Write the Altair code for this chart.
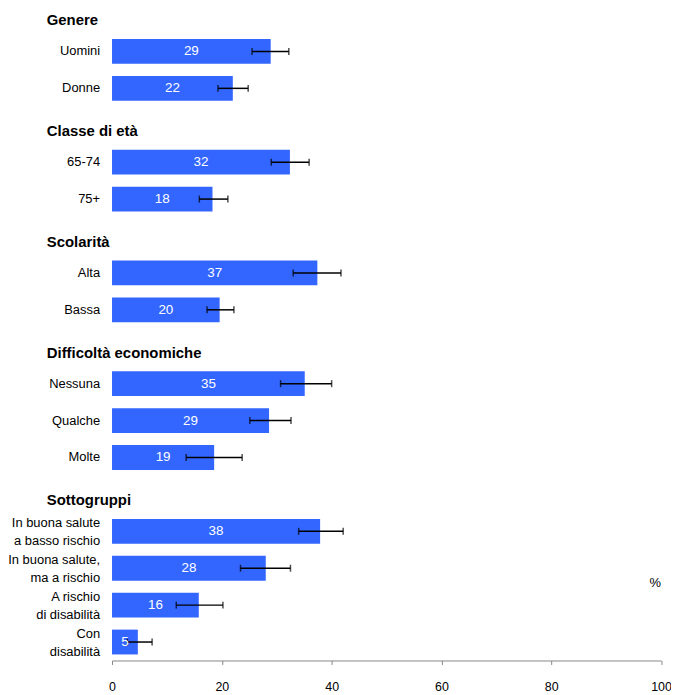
import altair as alt
import pandas as pd

FONT = "Liberation Sans, Arial, sans-serif"

groups = ["Genere", "Classe di età", "Scolarità", "Difficoltà economiche", "Sottogruppi"]
group_sizes = [2, 2, 2, 3, 4]
categories = [
    "Uomini", "Donne",
    "65-74", "75+",
    "Alta", "Bassa",
    "Nessuna", "Qualche", "Molte",
    "In buona salute\na basso rischio", "In buona salute,\nma a rischio",
    "A rischio\ndi disabilità", "Con\ndisabilità",
]
values = [28.9, 22.0, 32.4, 18.3, 37.4, 19.6, 35.1, 28.6, 18.6, 37.9, 28.0, 15.8, 4.7]
ci_low = [25.5, 19.3, 29.0, 15.9, 33.0, 17.3, 30.7, 25.1, 13.5, 34.0, 23.4, 11.7, 2.8]
ci_high = [32.2, 24.8, 35.9, 21.1, 41.7, 22.2, 40.0, 32.6, 23.7, 42.1, 32.5, 20.2, 7.3]
value_labels = ["29", "22", "32", "18", "37", "20", "35", "29", "19", "38", "28", "16", "5"]
x_ticks = [0, 20, 40, 60, 80, 100]

# build row order: each group heading takes one row, followed by its categories
head_rows, bar_rows = [], []
r = 0
k = 0
for g, n in zip(groups, group_sizes):
    head_rows.append({"heading": g, "row": r})
    r += 1
    for _ in range(n):
        lines = categories[k].split("\n")
        bar_rows.append({
            "label": lines,
            "nlines": len(lines),
            "value": values[k],
            "lo": ci_low[k],
            "hi": ci_high[k],
            "vlabel": value_labels[k],
            "row": r,
        })
        r += 1
        k += 1

bars_df = pd.DataFrame(bar_rows)
head_df = pd.DataFrame(head_rows)

y_enc = alt.Y("row:Q", scale=alt.Scale(domain=[0.3, 17.5], reverse=True, nice=False, zero=False, padding=0),
              axis=None)
x_scale = alt.Scale(domain=[0, 100], nice=False, padding=0)

base = alt.Chart(bars_df)

bars = base.mark_bar(orient="horizontal", size=25, color="#3366ff").encode(
    x=alt.X("value:Q", scale=x_scale, title=None,
            axis=alt.Axis(values=x_ticks, grid=False, tickSize=4, labelPadding=16, labelFlush=False,
                          domainColor="#888888", tickColor="#888888", labelColor="black",
                          labelFont=FONT, labelFontSize=12.5, format="d")),
    y=y_enc,
)

err = base.mark_rule(color="black", strokeWidth=1.5).encode(
    x=alt.X("lo:Q"), x2="hi:Q", y=y_enc
)
cap_lo = base.mark_tick(orient="vertical", size=7, thickness=1.5, color="black").encode(
    x="lo:Q", y=y_enc
)
cap_hi = base.mark_tick(orient="vertical", size=7, thickness=1.5, color="black").encode(
    x="hi:Q", y=y_enc
)

vals = base.transform_calculate(mid="datum.value / 2").mark_text(
    color="white", font=FONT, fontSize=13.5, baseline="middle", align="center"
).encode(x="mid:Q", y=y_enc, text="vlabel:N")

cat_single = base.transform_filter("datum.nlines == 1").mark_text(
    align="right", baseline="middle", font=FONT, fontSize=13, dx=-12, color="black"
).encode(x=alt.value(0), y=y_enc, text="label")

cat_multi = base.transform_filter("datum.nlines > 1").mark_text(
    align="right", baseline="middle", font=FONT, fontSize=13, lineHeight=18, dx=-12, dy=-8, color="black"
).encode(x=alt.value(0), y=y_enc, text="label")

headings = alt.Chart(head_df).mark_text(
    align="left", baseline="alphabetic", font=FONT, fontSize=15, fontWeight="bold", dy=11, color="black"
).encode(x=alt.value(-65.7), y=y_enc, text="heading:N")

pct = alt.Chart(pd.DataFrame({"t": ["%"]})).mark_text(
    align="right", baseline="middle", font=FONT, fontSize=13, color="black"
).encode(x=alt.value(552.6), y=alt.value(561), text="t:N")

chart = alt.layer(bars, err, cap_lo, cap_hi, vals, cat_single, cat_multi, headings, pct).properties(
    width=552.6,
    height=639,
    autosize=alt.AutoSizeParams(type="none"),
    padding={"left": 104.7, "top": 15.5, "right": 10, "bottom": 30},
).configure_view(stroke=None)

chart.save("out.html", embed_options={"renderer": "svg", "actions": False})
